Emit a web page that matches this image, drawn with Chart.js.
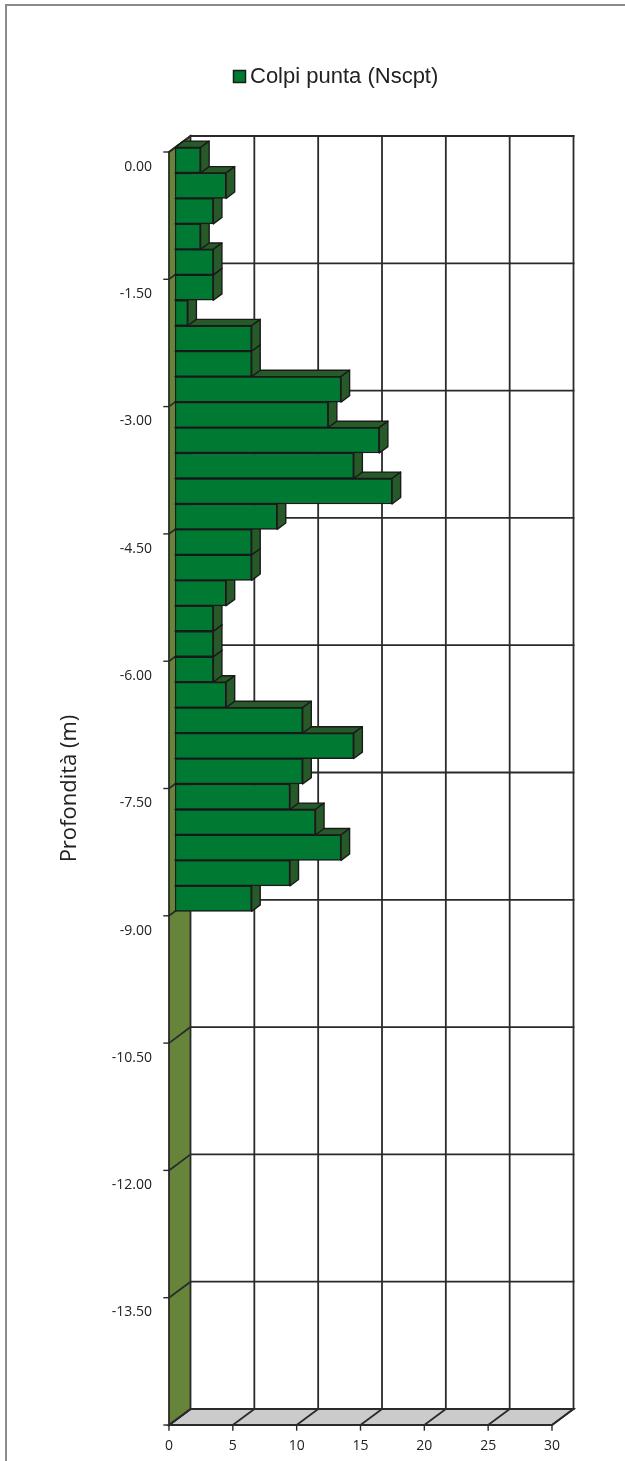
<!DOCTYPE html>
<html>
<head>
<meta charset="utf-8">
<script src="https://cdn.jsdelivr.net/npm/chart.js@4.4.0/dist/chart.umd.min.js"></script>
<style>
  html, body { margin: 0; padding: 0; background: #ffffff; }
  canvas { display: block; }
</style>
</head>
<body>
<canvas id="chart" width="625" height="1461"></canvas>
<script>
// Depth of each 0.30 m reading (category axis, top to bottom)
const depths = [
  '0.00', '-0.30', '-0.60', '-0.90', '-1.20',
  '-1.50', '-1.80', '-2.10', '-2.40', '-2.70',
  '-3.00', '-3.30', '-3.60', '-3.90', '-4.20',
  '-4.50', '-4.80', '-5.10', '-5.40', '-5.70',
  '-6.00', '-6.30', '-6.60', '-6.90', '-7.20',
  '-7.50', '-7.80', '-8.10', '-8.40', '-8.70',
  '-9.00', '-9.30', '-9.60', '-9.90', '-10.20',
  '-10.50', '-10.80', '-11.10', '-11.40', '-11.70',
  '-12.00', '-12.30', '-12.60', '-12.90', '-13.20',
  '-13.50', '-13.80', '-14.10', '-14.40', '-14.70'
];

// Tip blow counts per reading
const colpi = [
  2, 4, 3, 2, 3,
  3, 1, 6, 6, 13,
  12, 16, 14, 17, 8,
  6, 6, 4, 3, 3,
  3, 4, 10, 14, 10,
  9, 11, 13, 9, 6
];

const seriesName = 'Colpi punta (Nscpt)';
const axisTitle = 'Profondità (m)';
const xMin = 0, xMax = 30, xStep = 5;
const labelEvery = 5;

// Oblique projection of the box depth and placement of the bars inside it
const DEPTH = { dx: 21.5, dy: -16 };
const BAR_FRONT = 0.28;
const BAR_DEPTH = 0.40;

const COLORS = {
  front: '#007A33',
  side: '#275A29',
  edge: '#1A1A1A',
  wall: '#66843A',
  floor: '#CBCBCB',
  grid: '#2A2A2A',
  text: '#222222',
  frame: '#8A8A8A'
};

function poly(ctx, pts, fill, stroke, lw) {
  ctx.beginPath();
  ctx.moveTo(pts[0][0], pts[0][1]);
  for (let i = 1; i < pts.length; i++) ctx.lineTo(pts[i][0], pts[i][1]);
  ctx.closePath();
  if (fill) { ctx.fillStyle = fill; ctx.fill(); }
  if (stroke) { ctx.strokeStyle = stroke; ctx.lineWidth = lw || 1; ctx.stroke(); }
}

function line(ctx, x1, y1, x2, y2) {
  ctx.beginPath();
  ctx.moveTo(x1, y1);
  ctx.lineTo(x2, y2);
  ctx.stroke();
}

const box3d = {
  id: 'box3d',
  beforeDraw(chart) {
    const ctx = chart.ctx;
    ctx.save();
    ctx.fillStyle = '#ffffff';
    ctx.fillRect(0, 0, chart.width, chart.height);
    ctx.strokeStyle = COLORS.frame;
    ctx.lineWidth = 2;
    ctx.beginPath();
    ctx.moveTo(6, chart.height);
    ctx.lineTo(6, 5);
    ctx.lineTo(chart.width, 5);
    ctx.stroke();
    ctx.restore();
  },
  beforeDatasetsDraw(chart) {
    const { ctx, chartArea: a, scales } = chart;
    const xs = scales.x;
    const { dx, dy } = DEPTH;
    const cat = (a.bottom - a.top) / depths.length;
    const gy = [];
    for (let k = 0; k <= depths.length; k += labelEvery) gy.push(a.top + k * cat);
    const gx = xs.ticks.map(t => xs.getPixelForValue(t.value));

    ctx.save();
    ctx.lineCap = 'square';

    // back wall grid
    ctx.strokeStyle = COLORS.grid;
    ctx.lineWidth = 1.8;
    gx.forEach((px, i) => { if (i > 0) line(ctx, px + dx, a.top + dy, px + dx, a.bottom + dy); });
    gy.forEach(py => line(ctx, a.left + dx, py + dy, a.right + dx, py + dy));

    // floor
    poly(ctx, [[a.left, a.bottom], [a.right, a.bottom], [a.right + dx, a.bottom + dy], [a.left + dx, a.bottom + dy]],
      COLORS.floor, COLORS.grid, 1.8);
    ctx.strokeStyle = COLORS.grid;
    ctx.lineWidth = 1.8;
    gx.forEach(px => line(ctx, px, a.bottom, px + dx, a.bottom + dy));

    // side wall
    poly(ctx, [[a.left, a.top], [a.left + dx, a.top + dy], [a.left + dx, a.bottom + dy], [a.left, a.bottom]],
      COLORS.wall, COLORS.grid, 1.8);
    ctx.strokeStyle = COLORS.grid;
    ctx.lineWidth = 1.8;
    gy.forEach(py => line(ctx, a.left, py, a.left + dx, py + dy));

    // front tick marks
    ctx.lineWidth = 1.4;
    gy.forEach(py => line(ctx, a.left - 5, py, a.left, py));
    gx.forEach(px => line(ctx, px, a.bottom, px, a.bottom + 5));

    // top and right faces of every bar, bottom bar first
    const ox = BAR_FRONT * dx, oy = BAR_FRONT * dy;
    const bx = BAR_DEPTH * dx, by = BAR_DEPTH * dy;
    const bars = chart.getDatasetMeta(0).data;
    ctx.lineJoin = 'round';
    for (let i = bars.length - 1; i >= 0; i--) {
      const p = bars[i].getProps(['x', 'y', 'base', 'height'], true);
      const x0 = p.base + ox, x1 = p.x + ox;
      const yT = p.y - p.height / 2 + oy, yB = p.y + p.height / 2 + oy;
      poly(ctx, [[x0, yT], [x1, yT], [x1 + bx, yT + by], [x0 + bx, yT + by]], COLORS.side, COLORS.edge, 1.4);
      poly(ctx, [[x1, yT], [x1 + bx, yT + by], [x1 + bx, yB + by], [x1, yB]], COLORS.side, COLORS.edge, 1.4);
    }

    // front faces are drawn by Chart.js, shifted into the box depth
    ctx.save();
    ctx.translate(ox, oy);
  },
  afterDatasetsDraw(chart) {
    chart.ctx.restore();
    chart.ctx.restore();
  },
  afterDraw(chart) {
    const ctx = chart.ctx;
    ctx.save();
    // legend
    ctx.fillStyle = COLORS.front;
    ctx.fillRect(233.5, 70.5, 12, 12);
    ctx.strokeStyle = COLORS.edge;
    ctx.lineWidth = 1.5;
    ctx.strokeRect(233.5, 70.5, 12, 12);
    ctx.fillStyle = COLORS.text;
    ctx.font = '22px "Liberation Sans", Arial, sans-serif';
    ctx.textBaseline = 'middle';
    ctx.textAlign = 'left';
    ctx.fillText(seriesName, 250, 77);
    ctx.restore();
  }
};

new Chart(document.getElementById('chart'), {
  type: 'bar',
  data: {
    labels: depths,
    datasets: [{
      label: seriesName,
      data: colpi,
      backgroundColor: COLORS.front,
      borderColor: COLORS.edge,
      borderWidth: 1.5,
      borderSkipped: false,
      barPercentage: 1,
      categoryPercentage: 1
    }]
  },
  options: {
    indexAxis: 'y',
    responsive: false,
    animation: false,
    devicePixelRatio: 1,
    layout: { padding: { top: 152, left: 57, right: 73, bottom: 0 } },
    plugins: {
      legend: { display: false },
      tooltip: { enabled: false }
    },
    scales: {
      x: {
        type: 'linear',
        min: xMin,
        max: xMax,
        grid: { display: false, drawTicks: false },
        border: { display: false },
        ticks: {
          stepSize: xStep,
          padding: 13,
          color: COLORS.text,
          font: { family: '"Open Sans", sans-serif', size: 14 }
        },
        afterFit(scale) { scale.height = 36; }
      },
      y: {
        type: 'category',
        grid: { display: false, drawTicks: false },
        border: { display: false },
        ticks: {
          autoSkip: false,
          padding: 17,
          labelOffset: 2,
          color: COLORS.text,
          font: { family: '"Open Sans", sans-serif', size: 14 },
          callback(value, index) { return index % labelEvery === 0 ? depths[index] : ''; }
        },
        title: {
          display: true,
          text: axisTitle,
          color: COLORS.text,
          padding: 0,
          font: { family: '"Open Sans", sans-serif', size: 22 }
        },
        afterFit(scale) { scale.width = 112; }
      }
    }
  },
  plugins: [box3d]
});
</script>
</body>
</html>
